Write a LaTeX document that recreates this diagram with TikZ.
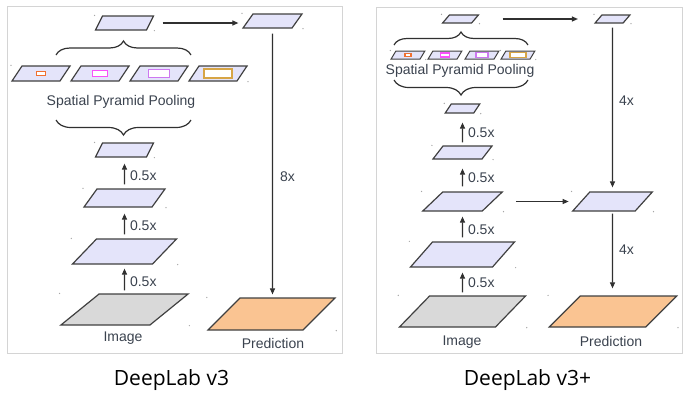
\documentclass[tikz,border=0pt]{standalone}
\usepackage{fontspec}
\setmainfont{Liberation Sans}
\newfontfamily\capfont{Open Sans}
\usetikzlibrary{arrows.meta,decorations.pathreplacing}

\definecolor{planefill}{RGB}{228,228,250}
\definecolor{imgfill}{RGB}{217,217,217}
\definecolor{predfill}{RGB}{250,196,146}
\definecolor{edgegray}{RGB}{64,64,64}
\definecolor{linegray}{RGB}{48,48,48}
\definecolor{labelgray}{RGB}{58,66,78}
\definecolor{framegray}{RGB}{212,212,212}
\definecolor{poolA}{RGB}{240,112,48}
\definecolor{poolB}{RGB}{250,80,250}
\definecolor{poolC}{RGB}{205,120,240}
\definecolor{poolD}{RGB}{215,165,70}

\tikzset{
  plane/.style n args={3}{draw=edgegray, line width=1.2pt, fill=planefill,
    minimum width=#1, minimum height=#2, xslant=#3, inner sep=0pt},
  bin/.style={draw=#1, line width=1.4pt, fill=white, inner sep=0pt},
  link/.style={draw=linegray, line width=1.1pt, -{Triangle[length=6pt,width=5pt]}},
  lab/.style={font=\fontsize{14}{16}\selectfont, text=labelgray, inner sep=0pt},
  captxt/.style={font=\capfont\fontsize{21}{24}\selectfont, text=black, inner sep=0pt},
  brace/.style={decorate, decoration={brace, amplitude=#1}, draw=linegray, line width=1.2pt},
  panelframe/.style={draw=framegray, line width=0.8pt}
}

\begin{document}
\begin{tikzpicture}[x=1pt,y=1pt]
\useasboundingbox (0,0) rectangle (690,-408);
\draw[panelframe] (7,-6) rectangle (342,-353);
\draw[panelframe] (376,-7) rectangle (682,-353);

% DeepLab v3
\node[plane={89}{31}{1.23}, fill=imgfill] (img) at (124.5,-309.5) {};
\node[plane={80}{25}{0.96}] (f2) at (124.5,-251.5) {};
\node[plane={68}{18}{0.72}] (f3) at (124.5,-198) {};
\node[plane={51}{14}{0.5}] (f4) at (124.5,-150) {};
\node[plane={51}{14}{0.5}] (aspp) at (124.5,-23) {};
\node[plane={49}{14}{0.71}] (up) at (272.5,-21) {};
\node[plane={95}{32}{1.0}, fill=predfill] (pred) at (271.5,-314) {};
\foreach \i/\x/\c/\w/\h in {1/41/poolA/9/4, 2/100/poolB/15/6, 3/159/poolC/21/8, 4/218/poolD/28/9} {
  \node[plane={48}{15}{0.67}] (p\i) at (\x,-73.5) {};
  \node[bin=\c, minimum width=\w, minimum height=\h] (b\i) at (p\i) {};
}
\node[lab] (spp) at (121,-102) {Spatial Pyramid Pooling};
\draw[brace=14pt] (56,-55) -- (191,-55);
\draw[brace=15pt] (191,-120) -- (56,-120);

\draw[link, shorten <=3pt, shorten >=4pt] (img) -- (f2) node[lab, pos=0.4, right=5pt] {0.5x};
\draw[link, shorten <=4pt, shorten >=6pt] (f2) -- (f3) node[lab, pos=0.4, right=5pt] {0.5x};
\draw[link, shorten <=4pt, shorten >=6pt] (f3) -- (f4) node[lab, pos=0.4, right=5pt] {0.5x};
\draw[link, shorten <=12pt, shorten >=9pt] (aspp.east) -- (aspp.east -| up.west);
\draw[link, shorten <=5pt, shorten >=3pt] (up) -- (up |- pred.north) node[lab, pos=0.55, right=7pt] {8x};

\node[lab] (imgtxt) at (123,-338) {Image};
\node[lab] (predtxt) at (273,-343) {Prediction};

% DeepLab v3+
\node[plane={96}{31}{0.97}, fill=imgfill] (rimg) at (462.5,-311.5) {};
\node[plane={82}{25}{0.88}] (r2) at (462.5,-254.5) {};
\node[plane={59.5}{19}{1.05}] (r3) at (462.5,-201.5) {};
\node[plane={49}{13}{0.77}] (r4) at (462.5,-152.5) {};
\node[plane={28.5}{9}{0.67}] (r5) at (462.5,-108.5) {};
\node[plane={29}{8}{0.85}] (raspp) at (460.5,-19) {};
\node[plane={28}{8}{0.85}] (rup) at (612.5,-19) {};
\node[plane={62.5}{19}{0.9}] (rdec) at (612.5,-201.5) {};
\node[plane={96.5}{31}{1.0}, fill=predfill] (rpred) at (613,-311.5) {};
\foreach \i/\x/\c/\w/\h in {1/408/poolA/6/2.5, 2/445/poolB/9/4, 3/482/poolC/12/5, 4/518/poolD/16/5.5} {
  \node[plane={29}{8}{0.6}, line width=1pt] (q\i) at (\x,-55) {};
  \node[bin=\c, line width=1.1pt, minimum width=\w, minimum height=\h] (c\i) at (q\i) {};
}
\node[lab] (rspp) at (460,-71) {Spatial Pyramid Pooling};
\draw[brace=13pt] (394,-45) -- (528,-45);
\draw[brace=15pt] (528,-80) -- (394,-80);

\draw[link, shorten <=3pt, shorten >=5pt] (rimg) -- (r2) node[lab, pos=0.45, right=5pt] {0.5x};
\draw[link, shorten <=4pt, shorten >=5pt] (r2) -- (r3) node[lab, pos=0.39, right=5pt] {0.5x};
\draw[link, shorten <=5pt, shorten >=9pt] (r3) -- (r4) node[lab, pos=0.42, right=5pt] {0.5x};
\draw[link, shorten <=3pt, shorten >=9pt] (r4) -- (r5) node[lab, pos=0.4, right=5pt] {0.5x};
\draw[link, shorten <=27pt, shorten >=20pt] (raspp.east) -- (raspp.east -| rup.west);
\draw[link, shorten <=4pt, shorten >=4pt] (rup) -- (rup |- rdec.north) node[lab, pos=0.46, right=6pt] {4x};
\draw[link, shorten <=23pt, shorten >=12pt] (r3.east) -- (r3.east -| rdec.west);
\draw[link, shorten <=2pt, shorten >=7pt] (rdec) -- (rdec |- rpred.north) node[lab, pos=0.46, right=6pt] {4x};

\node[lab] (rimgtxt) at (462,-342) {Image};
\node[lab] (rpredtxt) at (611,-341) {Prediction};

% small marks at the corners
\foreach \n in {img,f2,f3,f4,aspp,up,pred,p1,p4,rimg,r2,r3,r4,r5,raspp,rup,rdec,rpred,q1,q4}
  \fill[gray!70] (\n.south west |- \n.north) circle (0.7) (\n.north east |- \n.south) circle (0.7);

\node[captxt, anchor=base] (capA) at (171.5,-385) {DeepLab v3};
\node[captxt, anchor=base] (capB) at (527.5,-385) {DeepLab v3+};
\end{tikzpicture}
\end{document}
